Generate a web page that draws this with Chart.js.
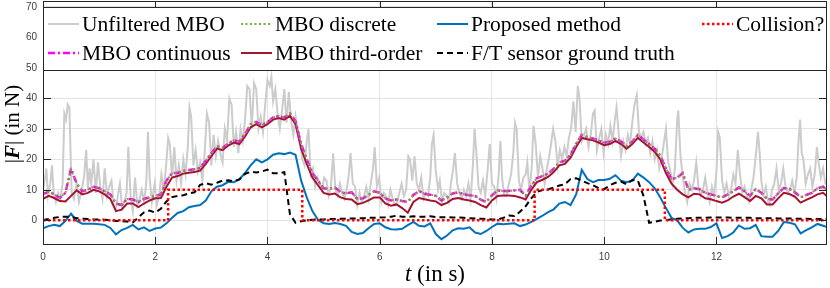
<!DOCTYPE html>
<html>
<head>
<meta charset="utf-8">
<script src="https://cdn.jsdelivr.net/npm/chart.js@4/dist/chart.umd.min.js"></script>
<style>
  body { margin: 0; background: #fff; }
  canvas { display: block; }
</style>
</head>
<body>
<canvas id="forceChart" width="830" height="288"></canvas>
<script>
// sample times (s) of the filtered signals
const tSmooth = [
  0, 0.1, 0.2, 0.3, 0.4, 0.5, 0.6, 0.7, 0.8, 0.9,
  1, 1.1, 1.2, 1.3, 1.4, 1.5, 1.6, 1.7, 1.8, 1.9,
  2, 2.1, 2.2, 2.3, 2.4, 2.5, 2.6, 2.7, 2.8, 2.9,
  3, 3.1, 3.2, 3.3, 3.4, 3.5, 3.6, 3.7, 3.8, 3.9,
  4, 4.1, 4.2, 4.3, 4.4, 4.5, 4.6, 4.7, 4.8, 4.9,
  5, 5.1, 5.2, 5.3, 5.4, 5.5, 5.6, 5.7, 5.8, 5.9,
  6, 6.1, 6.2, 6.3, 6.4, 6.5, 6.6, 6.7, 6.8, 6.9,
  7, 7.1, 7.2, 7.3, 7.4, 7.5, 7.6, 7.7, 7.8, 7.9,
  8, 8.1, 8.2, 8.3, 8.4, 8.5, 8.6, 8.7, 8.8, 8.9,
  9, 9.1, 9.2, 9.3, 9.4, 9.5, 9.6, 9.7, 9.8, 9.9,
  10, 10.1, 10.2, 10.3, 10.4, 10.5, 10.6, 10.7, 10.8, 10.9,
  11, 11.1, 11.2, 11.3, 11.4, 11.5, 11.6, 11.7, 11.8, 11.9,
  12, 12.1, 12.2, 12.3, 12.4, 12.5, 12.6, 12.7, 12.8, 12.9,
  13, 13.1, 13.2, 13.3, 13.4, 13.5, 13.6, 13.7, 13.8, 13.9,
  14
];

const mboDiscrete = [
  8.4, 9.4, 8.5, 7.3, 9, 16.6, 12, 9.5, 10, 11,
  10.5, 9.5, 8.5, 5.5, 5, 7, 6.8, 6, 7, 7.5,
  8, 8.5, 13, 15.5, 15.5, 16.2, 16.5, 16.7, 17.2, 19.5,
  22, 24.3, 23.7, 25.2, 26.2, 25.8, 28.3, 31.5, 32.3, 31.2,
  32.2, 33.7, 34.2, 33.7, 35, 32.5, 25, 20, 15.5, 13,
  10.5, 10.3, 10.8, 9.3, 8.8, 9.2, 7, 7.2, 8.3, 9.5,
  9, 7.2, 6.5, 6.8, 6.3, 6, 8.3, 9.6, 8.7, 8.4,
  8, 6.5, 7.5, 8.8, 9.2, 8.5, 8.2, 8, 6.8, 6,
  8.2, 9.8, 9.6, 9.6, 9.8, 10, 8, 11.3, 13.8, 14.5,
  15.3, 16.9, 19, 19.5, 21.5, 25, 28, 27.2, 26.8, 26.2,
  25.4, 25.8, 26.8, 25.8, 24.3, 25.8, 28, 26.5, 25, 23.5,
  21.2, 17, 13.5, 14, 15.3, 10, 10.5, 10.2, 9, 8.5,
  8, 7.5, 8.5, 9.5, 10.8, 9.5, 8, 10.3, 9, 7,
  6.8, 8.8, 10.6, 10.3, 9.2, 7.5, 8.3, 9, 10.5, 11,
  9.5
];

const mboContinuous = [
  8.5, 9.5, 8.5, 7.3, 9, 17, 12, 9.5, 10, 11,
  10.5, 9.5, 8.5, 5.5, 5, 7, 6.8, 6, 7, 7.5,
  8, 8.5, 13, 15.5, 15.5, 16.2, 16.5, 16.7, 17.2, 19.5,
  22, 24.3, 23.7, 25.2, 26.2, 25.8, 28.3, 31.5, 32.3, 31.2,
  32.2, 33.7, 34.2, 33.7, 35, 32.5, 25, 20, 15.5, 13,
  10.5, 10.3, 10.8, 9.3, 8.8, 9.2, 7, 7.2, 8.3, 9.5,
  9, 7.2, 6.5, 6.8, 6.3, 6, 8.3, 9.6, 8.7, 8.4,
  8, 6.5, 7.5, 8.8, 9.2, 8.5, 8.2, 8, 6.8, 6,
  8.2, 9.8, 9.6, 9.6, 9.8, 10, 8, 11.3, 13.8, 14.5,
  15.3, 16.9, 19, 19.5, 21.5, 25, 28, 27.2, 26.8, 26.2,
  25.4, 25.8, 26.8, 25.8, 24.3, 25.8, 28, 26.5, 25, 23.5,
  21.2, 17, 13.5, 14, 15.5, 10, 10.5, 10.2, 9, 8.5,
  8, 7.5, 8.5, 9.5, 10.8, 9.5, 8, 10.3, 9, 7,
  6.8, 8.8, 10.6, 10.3, 9.2, 7.5, 8.3, 9, 10.5, 11,
  9.5
];

const mboThirdOrder = [
  7, 8, 7.3, 6.3, 6.2, 8, 9.8, 8.5, 9, 10,
  9.5, 8.5, 7, 3, 3.5, 5.5, 5.5, 4.3, 5.5, 6.5,
  7.2, 7.3, 11, 14, 14.5, 15.3, 15.6, 15.8, 16.3, 18.5,
  21, 23.5, 23, 24.5, 25.5, 25, 27.5, 30.5, 31.5, 30.5,
  31.5, 33, 33.5, 33, 34.3, 31.5, 23.5, 18.5, 14, 11.5,
  9, 8.5, 8.8, 7.5, 7, 6.8, 5.3, 5.7, 6.5, 7.5,
  7.5, 5.5, 4.8, 5.2, 4, 2.5, 6, 7.3, 6.9, 6.5,
  6.2, 5, 5.7, 7, 7.3, 6.8, 6.5, 6, 5, 4.2,
  6.5, 8, 8.1, 8.1, 8, 7.5, 6.8, 10, 12.5, 13.3,
  14.2, 15.8, 18, 18.5, 20.5, 24, 27, 26.6, 26.2, 25.5,
  24.6, 25, 26, 25, 23.5, 25, 27, 25.5, 24, 22.5,
  20, 15.5, 12, 10, 8.5, 7.5, 8.7, 8.5, 7.2, 6.9,
  6.3, 5.8, 6.5, 7.8, 8.7, 7.6, 6.3, 8, 7.2, 5.2,
  5.2, 7.2, 9, 8.6, 7.7, 5.8, 6.7, 7.5, 8.5, 9,
  7.4
];

const proposed = [
  -2.6, -1.9, -1.5, -1.9, -0.2, 2.2, -0.2, -1.1, -1.1, -1.1,
  -1.3, -1.5, -2.5, -4.6, -3.2, -2.5, -1.5, -3, -2.3, -3.5,
  -2.7, -2.4, -1, 0.8, 2.4, 3, 4.3, 4.7, 5, 6.5,
  9.5, 11, 11.5, 12.6, 12.5, 13.5, 15.5, 18, 20, 19,
  20, 21.5, 22, 21.7, 22.2, 21.5, 13, 7.5, 3, 0.2,
  -1, -1.2, -0.9, -1.2, -1.8, -3.8, -4.5, -4.2, -2.6, -1.2,
  -1, -2.3, -2.9, -3, -2.8, -1.6, -0.5, -1.8, -2, -1,
  -4.5, -6.2, -5, -3.3, -2.6, -2.8, -2.3, -4, -4.5, -3.5,
  -2.2, -1.1, -1.3, -1.1, -1, -1.9, -1.4, -0.5, 0.5, 1.5,
  2.7, 3.6, 5.5, 6, 5, 8.5, 16.5, 13.5, 12.5, 13.2,
  13.2, 13.6, 14.8, 13, 12.5, 13, 15.3, 14, 12.5, 10.5,
  7.5, 4, 0.8, 0, -2.5, -4, -3, -2.8, -2.8, -2.2,
  -1, -5.8, -5.2, -4, -1.7, -2.8, -2.6, -1.5, -5.2, -5.4,
  -5.4, -3.5, -0.6, -0.8, -1.3, -4.3, -3.2, -2.3, -1.2, -1.8,
  -2.4
];

const ftSensor = [
  0.1, 0.4, 0.8, 1.1, 1.2, 1.1, 0.7, 0.5, 0.4, 0.3,
  0.3, 0.2, 0, -0.2, -0.3, -0.4, -0.7, 1, 2.6, 3.2,
  2.5, 3.8, 6.2, 7.6, 8, 8.2, 8.8, 9.2, 11.6, 12.2,
  11.7, 12.3, 13, 13.1, 12.8, 13.4, 15.2, 15.9, 15.7, 16,
  16.6, 15.4, 15.4, 15.8, 2, -0.8, -0.3, 0, 0.2, 0.3,
  0.3, 0.4, 0.4, 0.5, 0.5, 0.6, 0.6, 0.7, 0.8, 0.8,
  0.9, 1, 1.2, 1.5, 1.2, 1.1, 1.3, 1.2, 1.2, 1.3,
  1.1, 1, 1, 0.9, 0.9, 0.8, 0.7, 0.6, 0.5, 0.4,
  0.3, 0.3, 0.8, 1.6, 1.4, 2.8, 4.6, 7.2, 9.3, 9.9,
  10.2, 10.7, 11.4, 11.8, 13.5, 13.8, 13, 12.2, 11.5, 10.5,
  10.2, 11.5, 12.3, 12.7, 11.8, 13.2, 13, 8, -0.8, -0.5,
  -0.1, 0.1, 0.3, 0.5, 0.6, 0.7, 0.8, 0.8, 0.8, 0.9,
  0.9, 0.9, 0.9, 0.8, 0.8, 0.8, 0.8, 0.7, 0.7, 0.7,
  0.7, 0.6, 0.6, 0.6, 0.5, 0.5, 0.5, 0.4, 0.4, 0.4,
  0.4
];

// collision flag, switches at these times
const collisionTime = [0, 2.23, 4.62, 8.76, 11.08, 14];
const collisionValue = [0, 10, 0, 10, 0, 0];

// unfiltered MBO, spiky raw estimate
const rawTime = [
  0, 0.03, 0.06, 0.09, 0.13, 0.16, 0.19, 0.23, 0.27, 0.31, 0.35, 0.38, 0.41, 0.44, 0.47,
  0.51, 0.55, 0.6, 0.64, 0.69, 0.73, 0.77, 0.8, 0.83, 0.86, 0.9, 0.94, 0.98, 1.02, 1.06,
  1.1, 1.14, 1.18, 1.22, 1.26, 1.3, 1.34, 1.37, 1.41, 1.45, 1.49, 1.52, 1.56, 1.6, 1.64,
  1.68, 1.72, 1.76, 1.8, 1.84, 1.87, 1.9, 1.94, 1.99, 2.03, 2.07, 2.11, 2.15, 2.19, 2.23,
  2.26, 2.3, 2.34, 2.38, 2.42, 2.46, 2.5, 2.54, 2.58, 2.61, 2.64, 2.68, 2.72, 2.76, 2.8,
  2.84, 2.88, 2.92, 2.96, 3, 3.04, 3.08, 3.12, 3.16, 3.2, 3.24, 3.28, 3.32, 3.36, 3.4,
  3.44, 3.48, 3.52, 3.56, 3.6, 3.64, 3.68, 3.72, 3.76, 3.8, 3.84, 3.88, 3.92, 3.96, 4,
  4.04, 4.07, 4.1, 4.14, 4.18, 4.22, 4.26, 4.3, 4.34, 4.38, 4.42, 4.46, 4.5, 4.54, 4.58,
  4.62, 4.66, 4.7, 4.73, 4.77, 4.81, 4.85, 4.89, 4.93, 4.97, 5.01, 5.05, 5.09, 5.13, 5.17,
  5.21, 5.25, 5.29, 5.33, 5.37, 5.41, 5.45, 5.48, 5.52, 5.56, 5.6, 5.64, 5.68, 5.72, 5.76,
  5.8, 5.84, 5.88, 5.91, 5.95, 5.99, 6.03, 6.07, 6.11, 6.15, 6.19, 6.23, 6.27, 6.31, 6.35,
  6.39, 6.43, 6.47, 6.51, 6.54, 6.58, 6.62, 6.66, 6.7, 6.74, 6.78, 6.82, 6.86, 6.9, 6.93,
  6.96, 7, 7.04, 7.07, 7.11, 7.15, 7.19, 7.23, 7.27, 7.31, 7.34, 7.38, 7.42, 7.46, 7.5,
  7.54, 7.58, 7.62, 7.66, 7.69, 7.72, 7.76, 7.8, 7.84, 7.88, 7.92, 7.96, 8, 8.04, 8.08,
  8.12, 8.15, 8.18, 8.22, 8.26, 8.3, 8.34, 8.38, 8.41, 8.44, 8.48, 8.52, 8.56, 8.6, 8.63,
  8.67, 8.71, 8.74, 8.78, 8.82, 8.86, 8.9, 8.94, 8.98, 9.02, 9.06, 9.09, 9.13, 9.17, 9.21,
  9.25, 9.29, 9.33, 9.37, 9.41, 9.45, 9.49, 9.53, 9.56, 9.6, 9.64, 9.68, 9.72, 9.76, 9.8,
  9.83, 9.87, 9.91, 9.95, 9.99, 10.03, 10.07, 10.11, 10.15, 10.19, 10.22, 10.26, 10.3, 10.34, 10.38,
  10.42, 10.46, 10.5, 10.54, 10.58, 10.62, 10.66, 10.7, 10.74, 10.78, 10.82, 10.86, 10.9, 10.94, 10.98,
  11.02, 11.06, 11.1, 11.14, 11.18, 11.22, 11.26, 11.3, 11.32, 11.36, 11.4, 11.44, 11.48, 11.52, 11.56,
  11.6, 11.64, 11.68, 11.72, 11.76, 11.8, 11.84, 11.88, 11.92, 11.96, 12, 12.03, 12.06, 12.1, 12.14,
  12.18, 12.22, 12.26, 12.3, 12.34, 12.38, 12.42, 12.46, 12.5, 12.54, 12.58, 12.62, 12.66, 12.7, 12.74,
  12.77, 12.8, 12.84, 12.88, 12.92, 12.95, 12.99, 13.03, 13.07, 13.11, 13.15, 13.19, 13.23, 13.27, 13.31,
  13.35, 13.39, 13.43, 13.46, 13.49, 13.52, 13.55, 13.59, 13.63, 13.67, 13.71, 13.75, 13.79, 13.82, 13.86,
  13.9, 13.94, 13.98
];
const rawForce = [
  10, 13, 17, 8, 12, 18, 9, 6, 9, 7, 12, 35, 33, 38, 37,
  9, 7, 12, 6, 10, 14, 23, 10, 17, 12, 20, 9, 19, 11, 7,
  17, 8, 11, 13, 5, 4, 9, 12, 4, 6, 9, 24, 8, 3, 14,
  5, 7, 10, 6, 12, 29, 14, 6, 12, 5, 8, 15, 10, 17, 27,
  25, 14, 24, 13, 18, 12, 20, 15, 24, 37, 34, 18, 23, 16, 19,
  13, 22, 35, 32, 18, 28, 21, 26, 22, 19, 30, 26, 40, 38, 24,
  29, 22, 30, 26, 33, 44, 43, 30, 45, 43, 30, 34, 29, 38, 46,
  44, 47, 39, 43, 35, 30, 36, 43, 32, 42, 33, 28, 34, 29, 26,
  20, 18, 26, 30, 15, 17, 11, 14, 12, 10, 14, 13, 8, 11, 22,
  10, 8, 12, 9, 7, 10, 15, 22, 12, 11, 5, 9, 6, 8, 11,
  7, 12, 17, 24, 11, 14, 6, 9, 8, 5, 10, 7, 5, 6, 9,
  12, 8, 10, 21, 20, 13, 21, 12, 10, 14, 7, 9, 8, 14, 25,
  28, 16, 10, 13, 6, 9, 8, 6, 12, 17, 22, 12, 9, 7, 10,
  8, 12, 7, 18, 30, 23, 11, 9, 13, 8, 16, 25, 12, 11, 7,
  15, 26, 14, 8, 8, 12, 15, 22, 32, 30, 13, 10, 14, 15, 19,
  9, 18, 31, 25, 14, 21, 17, 12, 17, 21, 26, 30, 26, 18, 23,
  20, 24, 21, 27, 30, 39, 29, 44, 40, 26, 28, 30, 24, 28, 35,
  36, 23, 27, 30, 22, 28, 25, 31, 26, 33, 37, 28, 21, 26, 23,
  28, 25, 32, 38, 41, 29, 27, 29, 25, 27, 22, 26, 20, 23, 17,
  20, 25, 30, 19, 16, 12, 17, 33, 36, 21, 14, 9, 6, 12, 10,
  13, 19, 11, 8, 10, 14, 9, 6, 11, 8, 16, 29, 27, 13, 9,
  12, 8, 10, 15, 12, 23, 15, 9, 11, 8, 6, 10, 14, 21, 29,
  22, 13, 8, 11, 6, 5, 10, 12, 17, 10, 12, 17, 11, 9, 10,
  13, 9, 14, 25, 33, 22, 20, 12, 15, 17, 11, 15, 24, 19, 14,
  17, 12, 12
];

const xTicks = [0, 2, 4, 6, 8, 10, 12];
const yTicks = [0, 10, 20, 30, 40, 50, 60, 70];

const pts = (xs, ys) => xs.map((x, i) => ({ x: x, y: ys[i] }));

// MATLAB-like box with inward ticks, legend panel and mixed-font axis labels
const framePlugin = {
  id: 'frame',
  afterDatasetsDraw(chart) {
    const { ctx, chartArea: a, scales } = chart;
    const x = scales.x, y = scales.y;
    ctx.save();
    ctx.setLineDash([]);
    ctx.strokeStyle = '#262626';
    ctx.lineWidth = 1;
    ctx.beginPath();
    xTicks.forEach(v => {
      const px = Math.round(x.getPixelForValue(v)) + 0.5;
      ctx.moveTo(px, a.bottom); ctx.lineTo(px, a.bottom - 8);
      ctx.moveTo(px, a.top); ctx.lineTo(px, a.top + 8);
    });
    yTicks.forEach(v => {
      const py = Math.round(y.getPixelForValue(v)) + 0.5;
      ctx.moveTo(a.left, py); ctx.lineTo(a.left + 8, py);
      ctx.moveTo(a.right, py); ctx.lineTo(a.right - 8, py);
    });
    ctx.stroke();
    ctx.strokeRect(a.left + 0.5, a.top + 0.5, a.right - a.left - 1, a.bottom - a.top - 1);

    // legend panel
    const box = { l: 43.5, t: 7.5, r: 826.5, b: 70.5 };
    ctx.fillStyle = '#ffffff';
    ctx.fillRect(box.l, box.t, box.r - box.l, box.b - box.t);
    ctx.strokeStyle = '#262626';
    ctx.strokeRect(box.l, box.t, box.r - box.l, box.b - box.t);

    const cols = [48, 241, 437, 702];
    const rows = [24, 53];
    const layout = [
      ['Unfiltered MBO', 'MBO discrete', 'Proposed method', 'Collision?'],
      ['MBO continuous', 'MBO third-order', 'F/T sensor ground truth']
    ];
    ctx.font = '21.5px "Liberation Serif", serif';
    ctx.textBaseline = 'middle';
    ctx.textAlign = 'left';
    layout.forEach((row, r) => {
      row.forEach((label, c) => {
        const ds = chart.data.datasets.find(d => d.label === label);
        const yy = rows[r];
        ctx.beginPath();
        ctx.strokeStyle = ds.borderColor;
        ctx.lineWidth = ds.borderWidth;
        ctx.setLineDash(ds.borderDash || []);
        ctx.moveTo(cols[c], yy);
        ctx.lineTo(cols[c] + 31, yy);
        ctx.stroke();
        ctx.setLineDash([]);
        ctx.fillStyle = '#000000';
        ctx.fillText(label, cols[c] + 34, yy + 1);
      });
    });
    ctx.restore();
  },
  afterDraw(chart) {
    const { ctx, chartArea: a } = chart;
    ctx.save();
    ctx.fillStyle = '#000000';
    ctx.textBaseline = 'alphabetic';
    ctx.textAlign = 'left';
    // x label: t (in s)
    const fIt = 'italic 23px "Liberation Serif", serif';
    const fUp = '23px "Liberation Serif", serif';
    ctx.font = fIt; const w1 = ctx.measureText('t').width;
    ctx.font = fUp; const w2 = ctx.measureText(' (in s)').width;
    const sx = (a.left + a.right) / 2 - (w1 + w2) / 2;
    ctx.font = fIt; ctx.fillText('t', sx, 281);
    ctx.font = fUp; ctx.fillText(' (in s)', sx + w1, 281);

    // y label: |F| (in N)
    const yUp = '21px "Liberation Serif", serif';
    const yBoldIt = 'italic bold 21px "Liberation Serif", serif';
    const parts = [['|', yUp], ['F', yBoldIt], ['|', yUp], [' (in N)', yUp]];
    const widths = parts.map(p => { ctx.font = p[1]; return ctx.measureText(p[0]).width; });
    const total = widths.reduce((s, w) => s + w, 0);
    ctx.translate(19, 124);
    ctx.rotate(-Math.PI / 2);
    let cx = -total / 2;
    parts.forEach((p, i) => {
      ctx.font = p[1];
      ctx.fillText(p[0], cx, 0);
      cx += widths[i];
    });
    ctx.restore();
  }
};

const tickFont = { family: '"Liberation Sans", Arial, sans-serif', size: 10 };

new Chart(document.getElementById('forceChart'), {
  type: 'line',
  data: {
    datasets: [
      { label: 'Collision?', data: pts(collisionTime, collisionValue), borderColor: '#ff0000',
        borderWidth: 2.5, borderDash: [2.5, 2.5], stepped: true },
      { label: 'F/T sensor ground truth', data: pts(tSmooth, ftSensor), borderColor: '#000000',
        borderWidth: 2, borderDash: [6, 4] },
      { label: 'Proposed method', data: pts(tSmooth, proposed), borderColor: '#0072bd', borderWidth: 2 },
      { label: 'MBO discrete', data: pts(tSmooth, mboDiscrete), borderColor: '#77ac30',
        borderWidth: 2, borderDash: [2, 2.5] },
      { label: 'MBO continuous', data: pts(tSmooth, mboContinuous), borderColor: '#ff00ff',
        borderWidth: 2.5, borderDash: [7, 3, 2, 3] },
      { label: 'MBO third-order', data: pts(tSmooth, mboThirdOrder), borderColor: '#a2142f', borderWidth: 2 },
      { label: 'Unfiltered MBO', data: pts(rawTime, rawForce), borderColor: '#cccccc', borderWidth: 2 }
    ]
  },
  options: {
    responsive: false,
    animation: false,
    layout: { padding: { top: 1, right: 3, left: 0, bottom: 0 } },
    elements: { point: { radius: 0 }, line: { tension: 0, fill: false } },
    plugins: { legend: { display: false }, tooltip: { enabled: false } },
    scales: {
      x: {
        type: 'linear', min: 0, max: 13.97,
        afterFit: s => { s.height = 43; s.paddingLeft = 0; s.paddingRight = 0; },
        afterBuildTicks: s => { s.ticks = xTicks.map(v => ({ value: v })); },
        grid: { color: '#e3e3e3', drawTicks: false },
        border: { display: false },
        ticks: { padding: 6, font: tickFont, color: '#404040', maxRotation: 0 }
      },
      y: {
        type: 'linear', min: -8.1, max: 71.9,
        afterFit: s => { s.width = 43; s.paddingTop = 0; s.paddingBottom = 0; },
        afterBuildTicks: s => { s.ticks = yTicks.map(v => ({ value: v })); },
        grid: { color: '#e3e3e3', drawTicks: false },
        border: { display: false },
        ticks: { padding: 6, font: tickFont, color: '#404040' }
      }
    }
  },
  plugins: [framePlugin]
});
</script>
</body>
</html>
